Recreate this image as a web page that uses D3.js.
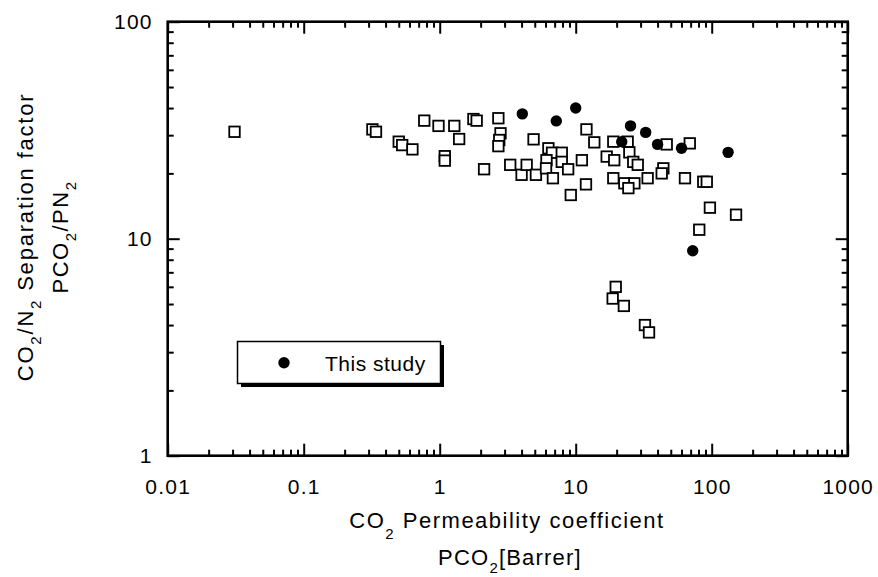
<!DOCTYPE html>
<html>
<head>
<meta charset="utf-8">
<script src="https://cdn.jsdelivr.net/npm/d3@7"></script>
<style>
  body { margin: 0; background: #fff; }
  svg text { font-family: "Liberation Sans", Arial, sans-serif; fill: #000; }
</style>
</head>
<body>
<div id="plot"></div>
<script>
// literature membranes (open squares)
const litPerm = [0.031, 0.32, 0.34, 0.50, 0.53, 0.63, 0.77, 0.98, 1.28, 1.39, 1.09, 1.09,
  1.77, 1.87, 2.12, 2.70, 2.80, 2.74, 2.70, 4.9, 3.3, 4.0, 4.36, 5.1, 6.3, 6.7, 7.9, 6.1,
  6.05, 6.8, 7.9, 8.8, 11.1, 11.9, 9.2, 12.0, 13.7, 18.9, 24.1, 16.9, 19.2, 24.8, 26.5,
  28.6, 33.8, 18.9, 22.8, 27.0, 24.4, 44.1, 42.9, 46.7, 69, 63.6, 86.7, 92, 97, 151, 81,
  19.7, 18.7, 22.6, 32.3, 34.6];
const litSep = [31.1, 31.9, 31.1, 28.0, 27.0, 25.8, 35.0, 33.1, 33.1, 28.8, 24.0, 22.9,
  35.6, 35.0, 20.9, 35.9, 30.6, 28.5, 26.7, 28.7, 21.9, 19.7, 21.9, 19.7, 26.1, 24.9, 24.9, 23.0,
  21.1, 19.0, 22.6, 20.9, 23.0, 17.8, 15.9, 31.9, 27.8, 28.0, 28.0, 23.9, 23.0, 25.0, 22.6,
  21.9, 19.0, 19.0, 18.0, 18.0, 17.1, 21.1, 20.0, 27.2, 27.5, 19.0, 18.3, 18.3, 13.9, 12.9, 11.0,
  6.0, 5.3, 4.9, 4.0, 3.7];

// this study (filled circles)
const studyPerm = [4.05, 7.2, 10, 25.3, 32.7, 21.8, 40, 60, 132, 72.5];
const studySep = [37.6, 34.9, 40, 33.1, 30.9, 28, 27.2, 26.1, 25, 8.8];

const xMajor = [0.01, 0.1, 1, 10, 100, 1000];
const xLabels = ["0.01", "0.1", "1", "10", "100", "1000"];
const yMajor = [1, 10, 100];
const yLabels = ["1", "10", "100"];
const legendLabel = "This study";

const width = 878, height = 577;
const pLeft = 167.7, pRight = 847.7, pTop = 21.7, pBottom = 455.7;

const svg = d3.select("#plot").append("svg")
  .attr("width", width)
  .attr("height", height);

const x = d3.scaleLog().domain([0.01, 1000]).range([pLeft, pRight]);
const y = d3.scaleLog().domain([1, 100]).range([pBottom, pTop]);

function minors(majors) {
  let out = [];
  for (let i = 0; i < majors.length - 1; i++) {
    for (let k = 2; k <= 9; k++) out.push(majors[i] * k);
  }
  return out;
}
const xMinor = minors(xMajor);
const yMinor = minors(yMajor);

function styleAxis(g) {
  g.select(".domain").remove();
  g.selectAll(".tick line").attr("stroke", "#000").attr("stroke-width", 2);
}

// ticks on all four sides, pointing inward
const sides = [
  { make: d3.axisBottom, s: x, t: "translate(0," + pBottom + ")", mj: xMajor, mn: xMinor },
  { make: d3.axisTop, s: x, t: "translate(0," + pTop + ")", mj: xMajor, mn: xMinor },
  { make: d3.axisLeft, s: y, t: "translate(" + pLeft + ",0)", mj: yMajor, mn: yMinor },
  { make: d3.axisRight, s: y, t: "translate(" + pRight + ",0)", mj: yMajor, mn: yMinor }
];
sides.forEach(function (sd) {
  svg.append("g").attr("transform", sd.t)
    .call(sd.make(sd.s).tickValues(sd.mn).tickSizeInner(-6).tickSizeOuter(0).tickFormat(""))
    .call(styleAxis);
  svg.append("g").attr("transform", sd.t)
    .call(sd.make(sd.s).tickValues(sd.mj).tickSizeInner(-12).tickSizeOuter(0).tickFormat(""))
    .call(styleAxis);
});

// tick labels
svg.append("g")
  .attr("transform", "translate(0," + pBottom + ")")
  .call(d3.axisBottom(x).tickValues(xMajor).tickSize(0).tickPadding(23)
    .tickFormat((d, i) => xLabels[i]))
  .call(g => g.select(".domain").remove())
  .call(g => g.selectAll("text").attr("font-size", 21).attr("letter-spacing", 1.2)
    .attr("font-family", "Liberation Sans, Arial, sans-serif").attr("fill", "#000"));

svg.append("g")
  .attr("transform", "translate(" + pLeft + ",0)")
  .call(d3.axisLeft(y).tickValues(yMajor).tickSize(0).tickPadding(15)
    .tickFormat((d, i) => yLabels[i]))
  .call(g => g.select(".domain").remove())
  .call(g => g.selectAll("text").attr("font-size", 21).attr("letter-spacing", 1.2)
    .attr("font-family", "Liberation Sans, Arial, sans-serif").attr("fill", "#000"));

// frame
svg.append("rect")
  .attr("x", pLeft).attr("y", pTop)
  .attr("width", pRight - pLeft).attr("height", pBottom - pTop)
  .attr("fill", "none").attr("stroke", "#000").attr("stroke-width", 2.6);

// squares
const sq = 10.5;
svg.append("g")
  .selectAll("rect")
  .data(d3.range(litPerm.length))
  .enter()
  .append("rect")
    .attr("x", i => x(litPerm[i]) - sq / 2)
    .attr("y", i => y(litSep[i]) - sq / 2)
    .attr("width", sq).attr("height", sq)
    .attr("fill", "#fff").attr("stroke", "#000").attr("stroke-width", 1.8);

// circles
svg.append("g")
  .selectAll("circle")
  .data(d3.range(studyPerm.length))
  .enter()
  .append("circle")
    .attr("cx", i => x(studyPerm[i]))
    .attr("cy", i => y(studySep[i]))
    .attr("r", 5.7)
    .attr("fill", "#000");

// legend with drop shadow
const lg = svg.append("g");
lg.append("rect").attr("x", 241).attr("y", 345).attr("width", 203).attr("height", 42).attr("fill", "#000");
lg.append("rect").attr("x", 237.5).attr("y", 341.5).attr("width", 203).attr("height", 42)
  .attr("fill", "#fff").attr("stroke", "#000").attr("stroke-width", 1.5);
lg.append("circle").attr("cx", 284).attr("cy", 362.7).attr("r", 5.7).attr("fill", "#000");
lg.append("text").attr("x", 325).attr("y", 370.5).attr("font-size", 21).attr("letter-spacing", 0.5)
  .text(legendLabel);

// x title
const xt = svg.append("text").attr("text-anchor", "middle").attr("font-size", 22).attr("letter-spacing", 1.5);
xt.append("tspan").attr("x", 507).attr("y", 528).text("CO");
xt.append("tspan").attr("dy", 11).attr("font-size", 15).text("2");
xt.append("tspan").attr("dy", -11).text(" Permeability coefficient");
const xt2 = svg.append("text").attr("text-anchor", "middle").attr("font-size", 22).attr("letter-spacing", 1.2);
xt2.append("tspan").attr("x", 510).attr("y", 565).text("PCO");
xt2.append("tspan").attr("dy", 8).attr("font-size", 15).text("2");
xt2.append("tspan").attr("dy", -8).text("[Barrer]");

// y title
const yt = svg.append("text").attr("text-anchor", "middle").attr("font-size", 22).attr("letter-spacing", 1.8)
  .attr("transform", "translate(33,237) rotate(-90)");
yt.append("tspan").text("CO");
yt.append("tspan").attr("dy", 8).attr("font-size", 15).text("2");
yt.append("tspan").attr("dy", -8).text("/N");
yt.append("tspan").attr("dy", 8).attr("font-size", 15).text("2");
yt.append("tspan").attr("dy", -8).text(" Separation factor");
const yt2 = svg.append("text").attr("text-anchor", "middle").attr("font-size", 22).attr("letter-spacing", 1.5)
  .attr("transform", "translate(68,237) rotate(-90)");
yt2.append("tspan").text("PCO");
yt2.append("tspan").attr("dy", 8).attr("font-size", 15).text("2");
yt2.append("tspan").attr("dy", -8).text("/PN");
yt2.append("tspan").attr("dy", 8).attr("font-size", 15).text("2");
</script>
</body>
</html>
